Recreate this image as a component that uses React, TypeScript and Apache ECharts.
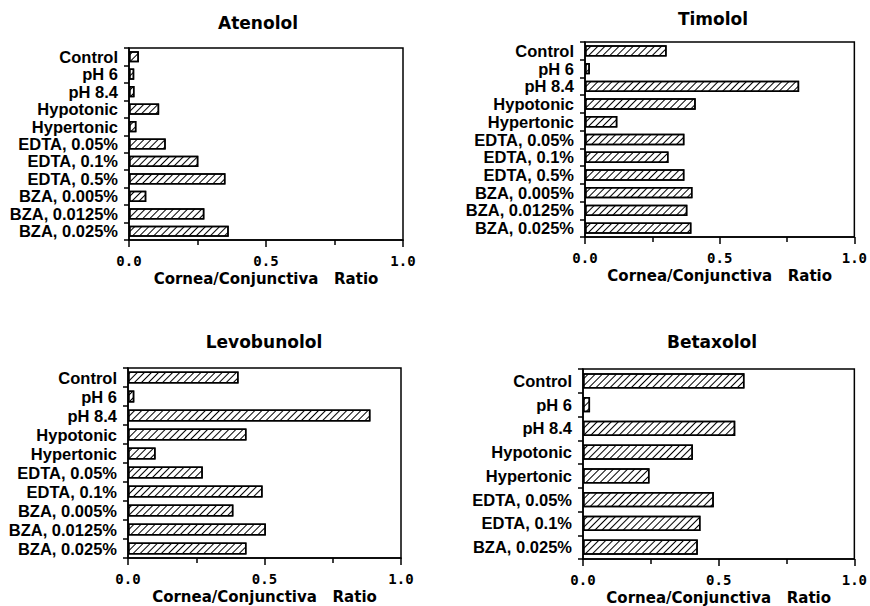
import React, { useEffect, useRef } from "react";
import * as echarts from "echarts";

const catsAtenolol = ["Control", "pH 6", "pH 8.4", "Hypotonic", "Hypertonic", "EDTA, 0.05%", "EDTA, 0.1%", "EDTA, 0.5%", "BZA, 0.005%", "BZA, 0.0125%", "BZA, 0.025%"];
const valsAtenolol = [0.036, 0.019, 0.02, 0.11, 0.027, 0.134, 0.253, 0.352, 0.063, 0.275, 0.364];

const catsTimolol = ["Control", "pH 6", "pH 8.4", "Hypotonic", "Hypertonic", "EDTA, 0.05%", "EDTA, 0.1%", "EDTA, 0.5%", "BZA, 0.005%", "BZA, 0.0125%", "BZA, 0.025%"];
const valsTimolol = [0.303, 0.018, 0.795, 0.411, 0.12, 0.369, 0.31, 0.369, 0.399, 0.38, 0.395];

const catsLevobunolol = ["Control", "pH 6", "pH 8.4", "Hypotonic", "Hypertonic", "EDTA, 0.05%", "EDTA, 0.1%", "BZA, 0.005%", "BZA, 0.0125%", "BZA, 0.025%"];
const valsLevobunolol = [0.405, 0.023, 0.888, 0.434, 0.101, 0.274, 0.493, 0.386, 0.505, 0.434];

const catsBetaxolol = ["Control", "pH 6", "pH 8.4", "Hypotonic", "Hypertonic", "EDTA, 0.05%", "EDTA, 0.1%", "BZA, 0.025%"];
const valsBetaxolol = [0.595, 0.026, 0.561, 0.405, 0.245, 0.482, 0.433, 0.423];

const xTicks = [0, 0.5, 1.0];
const xTitle = "Cornea/Conjunctiva   Ratio";

const panels = [
  { name: "Atenolol", cats: catsAtenolol, vals: valsAtenolol, grid: { left: 129, top: 48, width: 274, height: 192 }, title: { x: 258, y: 14 } },
  { name: "Timolol", cats: catsTimolol, vals: valsTimolol, grid: { left: 585, top: 42, width: 272, height: 195 }, title: { x: 713, y: 10 } },
  { name: "Levobunolol", cats: catsLevobunolol, vals: valsLevobunolol, grid: { left: 128, top: 368, width: 273, height: 190 }, title: { x: 264, y: 333 } },
  { name: "Betaxolol", cats: catsBetaxolol, vals: valsBetaxolol, grid: { left: 583, top: 369, width: 272, height: 190 }, title: { x: 712, y: 333 } },
];

export default function App() {
  const ref = useRef<HTMLDivElement>(null);
  useEffect(() => {
    if (!ref.current) return;
    const chart = echarts.init(ref.current, null, { renderer: "svg" });
    const option: any = {
      animation: false,
      backgroundColor: "#fff",
      title: panels.map((p) => ({
        text: p.name,
        left: p.title.x,
        top: p.title.y,
        textAlign: "center",
        padding: 0,
        textStyle: { fontFamily: "DejaVu Sans", fontWeight: "bold", fontSize: 17, color: "#000" },
      })),
      grid: panels.map((p) => ({
        left: p.grid.left,
        top: p.grid.top,
        width: p.grid.width,
        height: p.grid.height,
        show: true,
        borderColor: "#000",
        borderWidth: 1.5,
        backgroundColor: "transparent",
      })),
      xAxis: panels.map((p, i) => ({
        type: "value",
        gridIndex: i,
        min: 0,
        max: 1,
        interval: 0.5,
        name: xTitle,
        nameLocation: "middle",
        nameGap: 31,
        nameTextStyle: { fontFamily: "DejaVu Sans", fontWeight: "bold", fontSize: 15, color: "#000", lineHeight: 15 },
        axisLine: { show: true, lineStyle: { color: "#000", width: 1.5 } },
        axisTick: { show: true, length: 7, lineStyle: { color: "#000", width: 1.5 } },
        minorTick: { show: true, splitNumber: 2, length: 5, lineStyle: { color: "#000", width: 1.5 } },
        splitLine: { show: false },
        axisLabel: {
          margin: 14,
          fontFamily: "DejaVu Sans Mono",
          fontWeight: "bold",
          fontSize: 14,
          lineHeight: 14,
          color: "#000",
          formatter: (v: number) => {
            const t = xTicks.find((k) => Math.abs(k - v) < 1e-9);
            return t === undefined ? "" : t.toFixed(1);
          },
        },
      })),
      yAxis: panels.map((p, i) => ({
        type: "category",
        gridIndex: i,
        data: p.cats,
        inverse: true,
        axisLine: { show: true, lineStyle: { color: "#000", width: 1.5 } },
        axisTick: { show: true, length: 5, alignWithLabel: false, lineStyle: { color: "#000", width: 1.5 } },
        splitLine: { show: false },
        axisLabel: {
          margin: 11,
          fontFamily: "Liberation Sans",
          fontWeight: "bold",
          fontSize: 16.5,
          color: "#000",
          interval: 0,
        },
      })),
      series: panels.map((p, i) => ({
        type: "bar",
        name: p.name,
        xAxisIndex: i,
        yAxisIndex: i,
        data: p.vals,
        barCategoryGap: "36%",
        itemStyle: {
          color: "#fff",
          borderColor: "#000",
          borderWidth: 1.5,
          decal: {
            color: "#000",
            backgroundColor: "#fff",
            symbol: "rect",
            symbolSize: 1,
            dashArrayX: [1, 0],
            dashArrayY: [1, 4],
            rotation: -Math.PI / 4,
          },
        },
      })),
    };
    chart.setOption(option);
    return () => chart.dispose();
  }, []);
  return (
    <div
      ref={ref}
      style={{ position: "absolute", left: 0, top: 0, width: 870, height: 606, background: "#fff" }}
    />
  );
}
